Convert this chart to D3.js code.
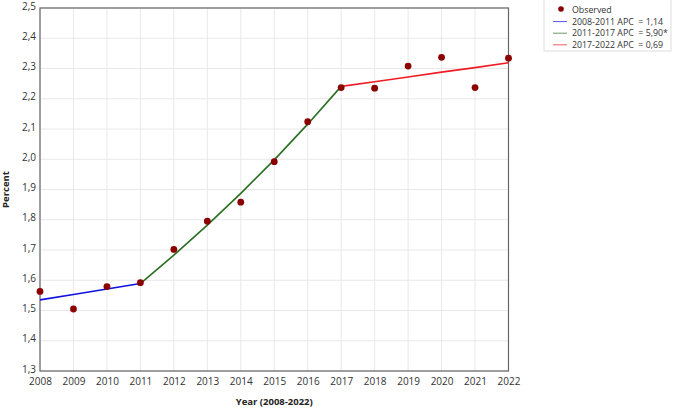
<!DOCTYPE html>
<html>
<head>
<meta charset="utf-8">
<script src="https://cdn.jsdelivr.net/npm/d3@7"></script>
<style>
  body { margin: 0; background: #fff; }
  svg { display: block; font-family: "Open Sans", "Noto Sans", sans-serif; }
</style>
</head>
<body>
<svg id="chart" width="676" height="409"></svg>
<script>
var years = [2008, 2009, 2010, 2011, 2012, 2013, 2014, 2015, 2016, 2017, 2018, 2019, 2020, 2021, 2022];
var observed = [1.563, 1.505, 1.579, 1.592, 1.702, 1.795, 1.858, 1.992, 2.124, 2.237, 2.235, 2.308, 2.337, 2.237, 2.334];

// joinpoint segments (fitted values per year)
var seg1Years = [2008, 2009, 2010, 2011];
var seg1Fit = [1.535, 1.553, 1.571, 1.589];
var seg2Years = [2011, 2012, 2013, 2014, 2015, 2016, 2017];
var seg2Fit = [1.589, 1.683, 1.782, 1.887, 1.998, 2.116, 2.241];
var seg3Years = [2017, 2018, 2019, 2020, 2021, 2022];
var seg3Fit = [2.241, 2.256, 2.272, 2.288, 2.303, 2.319];

var legendLabels = ["Observed", "2008-2011 APC  = 1,14", "2011-2017 APC  = 5,90*", "2017-2022 APC  = 0,69"];
var segColors = ["#1010e0", "#2a6e22", "#ee1c24"];
var yTicks = [1.3, 1.4, 1.5, 1.6, 1.7, 1.8, 1.9, 2.0, 2.1, 2.2, 2.3, 2.4, 2.5];

var svg = d3.select("#chart");
var mLeft = 40, mRight = 508.5, mTop = 8, mBottom = 371;

var x = d3.scaleLinear().domain([2008, 2022]).range([mLeft, mRight]);
var y = d3.scaleLinear().domain([1.3, 2.5]).range([mBottom, mTop]);
var fmt = function(v) { return d3.format(".1f")(v).replace(".", ","); };

// grid
svg.append("g").selectAll("line")
  .data(years).enter().append("line")
  .attr("x1", d => x(d)).attr("x2", d => x(d))
  .attr("y1", mTop).attr("y2", mBottom)
  .attr("stroke", "#e8e8e8").attr("stroke-width", 1);
svg.append("g").selectAll("line")
  .data(yTicks).enter().append("line")
  .attr("x1", mLeft).attr("x2", mRight)
  .attr("y1", d => y(d)).attr("y2", d => y(d))
  .attr("stroke", "#e8e8e8").attr("stroke-width", 1);

// axes
var xAxis = svg.append("g")
  .attr("transform", "translate(0," + mBottom + ")")
  .call(d3.axisBottom(x).tickValues(years).tickFormat(d3.format("d")).tickSize(0).tickPadding(7));
var yAxis = svg.append("g")
  .attr("transform", "translate(" + mLeft + ",0)")
  .call(d3.axisLeft(y).tickValues(yTicks).tickFormat(fmt).tickSize(0).tickPadding(4));
[xAxis, yAxis].forEach(function(a) {
  a.select(".domain").remove();
  a.selectAll("text").attr("font-size", 10).attr("fill", "#333")
    .attr("font-family", "\"Open Sans\", \"Noto Sans\", sans-serif");
});
yAxis.selectAll("text").attr("dy", "0.1em");

// frame
svg.append("rect")
  .attr("x", mLeft).attr("y", mTop)
  .attr("width", mRight - mLeft).attr("height", mBottom - mTop)
  .attr("fill", "none").attr("stroke", "#666").attr("stroke-width", 1.2);

// fitted segments
var line = d3.line().x(d => x(d[0])).y(d => y(d[1]));
[[seg1Years, seg1Fit], [seg2Years, seg2Fit], [seg3Years, seg3Fit]].forEach(function(s, i) {
  svg.append("path")
    .datum(d3.zip(s[0], s[1]))
    .attr("d", line)
    .attr("fill", "none")
    .attr("stroke", segColors[i])
    .attr("stroke-width", 1.6);
});

// observed points
svg.append("g").selectAll("circle")
  .data(d3.zip(years, observed)).enter().append("circle")
  .attr("cx", d => x(d[0])).attr("cy", d => y(d[1]))
  .attr("r", 3.4).attr("fill", "#8b0000");

// axis titles
svg.append("text")
  .attr("x", (mLeft + mRight) / 2).attr("y", 405)
  .attr("text-anchor", "middle")
  .attr("font-size", 9.5).attr("font-weight", "bold").attr("fill", "#222")
  .text("Year (2008-2022)");
svg.append("text")
  .attr("transform", "translate(9," + ((mTop + mBottom) / 2) + ") rotate(-90)")
  .attr("text-anchor", "middle")
  .attr("font-size", 9.5).attr("font-weight", "bold").attr("fill", "#222")
  .text("Percent");

// legend
var lg = svg.append("g").attr("transform", "translate(544,0)");
lg.append("rect")
  .attr("x", 0).attr("y", -1).attr("width", 127).attr("height", 52)
  .attr("fill", "#fff").attr("stroke", "#ddd");
legendLabels.forEach(function(t, i) {
  var cy = 10 + i * 11.6;
  if (i === 0) {
    lg.append("circle").attr("cx", 17).attr("cy", cy - 1).attr("r", 2.8).attr("fill", "#8b0000");
  } else {
    lg.append("line")
      .attr("x1", 9).attr("x2", 23).attr("y1", cy).attr("y2", cy)
      .attr("stroke", segColors[i - 1]).attr("stroke-width", 1).attr("opacity", 0.7);
  }
  lg.append("text")
    .attr("x", 28).attr("y", cy + 3)
    .attr("font-size", 8.8).attr("fill", "#333")
    .style("white-space", "pre")
    .text(t);
});
</script>
</body>
</html>
